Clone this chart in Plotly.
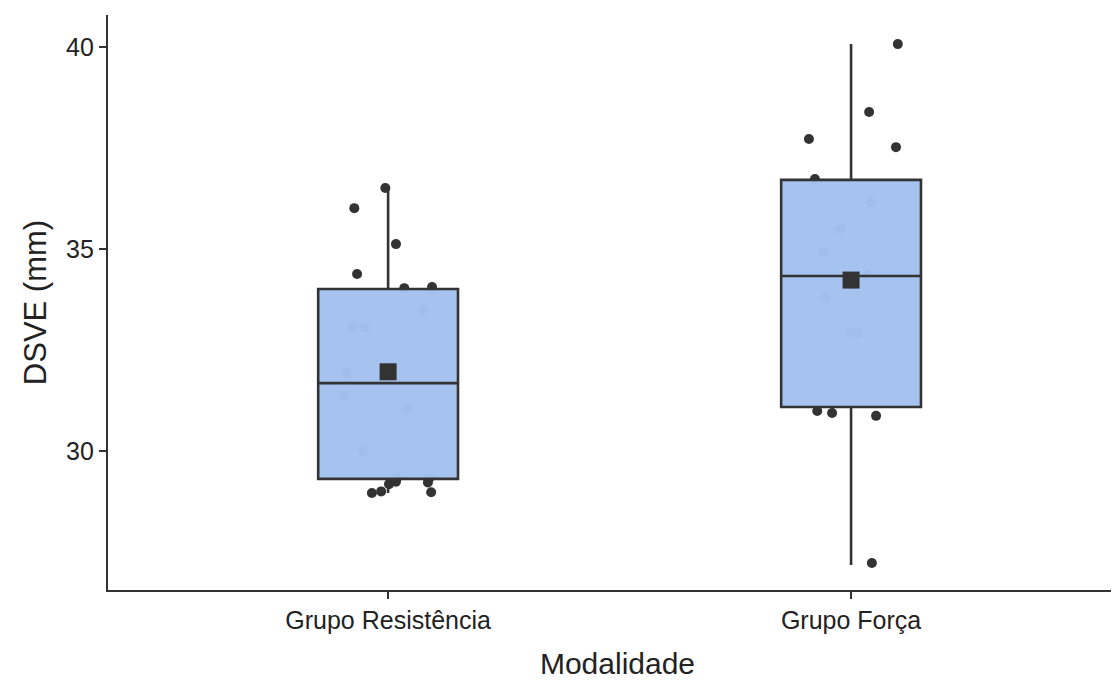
import plotly.graph_objects as go

categories = ["Grupo Resistência", "Grupo Força"]

# jittered observations (value, horizontal jitter offset in category units)
res_values = [36.51, 36.01, 35.12, 34.38, 34.03, 34.06, 33.49, 33.07, 33.07, 31.93,
              31.39, 31.04, 30.00, 29.33, 29.33, 28.96, 29.00, 29.18, 29.24, 28.98, 29.22]
res_jitter = [-0.006, -0.073, 0.017, -0.067, 0.035, 0.095, 0.076, -0.076, -0.050, -0.089,
              -0.095, 0.041, -0.054, 0.019, 0.089, -0.035, -0.015, 0.002, 0.017, 0.093, 0.086]

fuerza_values = [40.07, 38.39, 37.72, 37.52, 36.73, 36.16, 35.50, 34.93, 34.36, 33.79,
                 32.92, 32.92, 30.99, 30.94, 30.87, 27.23]
fuerza_jitter = [0.101, 0.039, -0.091, 0.097, -0.078, 0.043, -0.022, -0.060, 0.035, -0.056,
                 -0.002, 0.015, -0.073, -0.041, 0.054, 0.045]

# box statistics
q1 = [29.31, 31.09]
median = [31.68, 34.33]
q3 = [34.01, 36.71]
lowerfence = [28.96, 27.18]
upperfence = [36.55, 40.07]
means = [31.96, 34.23]

y_ticks = [30, 35, 40]

pos = list(range(len(categories)))
dark = "#333333"
txt = "#222222"

fig = go.Figure()

# jittered points on the base subplot (beneath the boxes)
fig.add_trace(go.Scatter(
    x=[pos[0] + j for j in res_jitter] + [pos[1] + j for j in fuerza_jitter],
    y=res_values + fuerza_values,
    mode="markers",
    marker=dict(color=dark, size=10, line=dict(width=0)),
    showlegend=False, hoverinfo="y",
))

# boxes on an overlaying subplot so they cover the points
fig.add_trace(go.Box(
    x=pos, q1=q1, median=median, q3=q3,
    lowerfence=lowerfence, upperfence=upperfence,
    boxpoints=False, width=0.302, whiskerwidth=0,
    fillcolor="rgba(164,194,240,0.975)",
    line=dict(color=dark, width=2.6),
    xaxis="x2", yaxis="y2",
    showlegend=False,
))

# mean markers on top
fig.add_trace(go.Scatter(
    x=pos, y=means, mode="markers",
    marker=dict(symbol="square", color=dark, size=17, line=dict(width=0)),
    xaxis="x3", yaxis="y3", showlegend=False,
))

xr = [-0.605, 1.596]
yr = [26.56, 40.79]

fig.update_layout(
    width=1119, height=682,
    margin=dict(l=100, r=0, t=7, b=100, autoexpand=False),
    paper_bgcolor="white", plot_bgcolor="white",
    font=dict(family="Liberation Sans, Arial, sans-serif", color=txt),
    xaxis=dict(
        range=xr, tickvals=pos, ticktext=categories,
        showline=True, linecolor=dark, linewidth=2.2,
        ticks="outside", ticklen=7, tickwidth=2.2, tickcolor=dark,
        showgrid=False, zeroline=False, automargin=False,
        tickfont=dict(size=25, color=txt),
        title=dict(text="Modalidade", font=dict(size=30, color=txt), standoff=20),
    ),
    yaxis=dict(
        range=yr, tickvals=y_ticks,
        showline=True, linecolor=dark, linewidth=2.2,
        ticks="outside", ticklen=7, tickwidth=2.2, tickcolor=dark,
        showgrid=False, zeroline=False, automargin=False,
        tickfont=dict(size=25, color=txt),
        title=dict(text="DSVE (mm)", font=dict(size=31, color=txt), standoff=10),
    ),
    xaxis2=dict(range=xr, overlaying="x", visible=False),
    yaxis2=dict(range=yr, overlaying="y", visible=False),
    xaxis3=dict(range=xr, overlaying="x", visible=False),
    yaxis3=dict(range=yr, overlaying="y", visible=False),
)

fig.write_html("out.html")
